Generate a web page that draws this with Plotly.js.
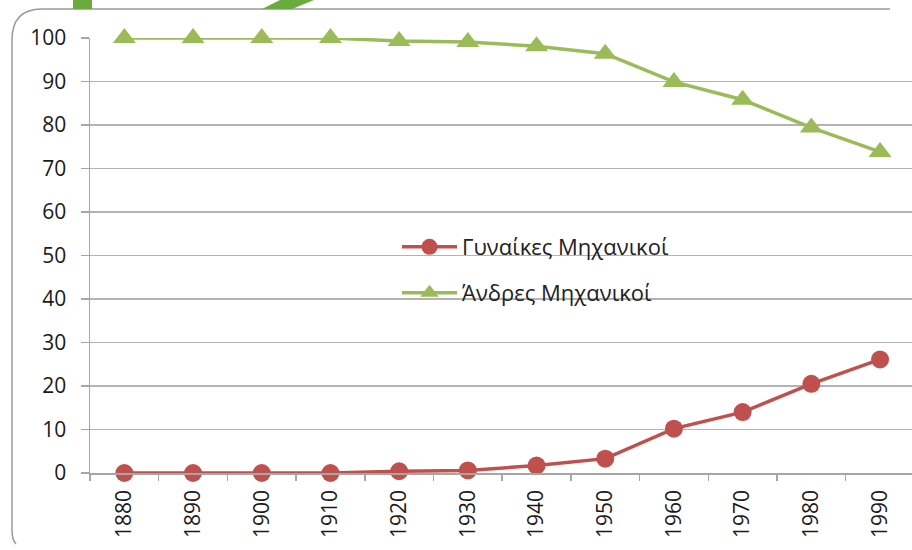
<!DOCTYPE html>
<html>
<head>
<meta charset="utf-8">
<script src="https://cdn.plot.ly/plotly-3.0.1.min.js"></script>
<style>html,body{margin:0;padding:0;background:#fff;}#chart{width:912px;height:550px;}</style>
</head>
<body>
<div id="chart"></div>
<script>
const years = ["1880","1890","1900","1910","1920","1930","1940","1950","1960","1970","1980","1990"];
const women = [0, 0, 0, 0, 0.4, 0.6, 1.7, 3.3, 10.2, 14.0, 20.5, 26.1];
const men = [100, 100, 100, 100, 99.3, 99.1, 98.1, 96.4, 89.9, 85.8, 79.4, 73.8];
const womenName = "Γυναίκες Μηχανικοί";
const menName = "Άνδρες Μηχανικοί";
const yTicks = [0,10,20,30,40,50,60,70,80,90,100];

const W = 912, H = 550;
const L = 90, T = 38, B = 77;
const plotW = W - L, plotH = H - T - B;
const px = x => (x - L) / plotW;
const py = y => (H - B - y) / plotH;

const FONT = "Open Sans, Liberation Sans, sans-serif";

const traces = [
  {
    x: years, y: women, name: womenName, type: "scatter", mode: "lines+markers",
    line: {color: "#c0504d", width: 3.5},
    marker: {symbol: "circle", size: 18, color: "#c0504d"},
    cliponaxis: false, legend: "legend"
  },
  {
    x: years, y: men, name: menName, type: "scatter", mode: "lines+markers",
    line: {color: "#9bbb59", width: 3.5},
    marker: {symbol: "triangle-up", size: 20, color: "#9bbb59"},
    cliponaxis: false, legend: "legend2"
  }
];

const frame = `M ${px(890)} ${py(9)} L ${px(42)} ${py(9)} Q ${px(12)} ${py(9)} ${px(12)} ${py(40)} L ${px(12)} ${py(530)} Q ${px(12)} ${py(540)} ${px(16)} ${py(544)}`;
const stripe = `M ${px(262)} ${py(9)} L ${px(292)} ${py(9)} L ${px(314)} ${py(0)} L ${px(280)} ${py(0)} Z`;

const legendFont = {family: FONT, size: 22, color: "#222"};

const layout = {
  width: W, height: H,
  margin: {l: L, r: 0, t: T, b: B, pad: 0},
  paper_bgcolor: "#ffffff", plot_bgcolor: "#ffffff",
  showlegend: true,
  font: {family: FONT, color: "#222", size: 18},
  xaxis: {
    type: "category", range: [-0.5, 11.465],
    showgrid: false, zeroline: false,
    showline: true, linecolor: "#a6a6a6", linewidth: 1.5,
    tickson: "boundaries", ticks: "outside", ticklen: 6, tickcolor: "#a6a6a6", tickwidth: 1.5,
    tickangle: -90, ticklabelstandoff: 7, tickfont: {family: FONT, size: 21, color: "#1a1a1a"}
  },
  yaxis: {
    range: [0, 100], tickvals: yTicks, ticktext: yTicks.map(String),
    showgrid: true, gridcolor: "#b3b3b3", gridwidth: 1.5,
    zeroline: false, showline: true, linecolor: "#a6a6a6", linewidth: 1.5,
    ticks: "outside", ticklen: 8, tickcolor: "#a6a6a6", tickwidth: 1.5,
    ticklabelstandoff: 10, tickfont: {family: FONT, size: 21, color: "#1a1a1a"}
  },
  legend: {
    x: px(397), y: py(247), xanchor: "left", yanchor: "middle", itemwidth: 55,
    bgcolor: "rgba(0,0,0,0)", font: legendFont
  },
  legend2: {
    x: px(397), y: py(293), xanchor: "left", yanchor: "middle", itemwidth: 55,
    bgcolor: "rgba(0,0,0,0)", font: legendFont
  },
  shapes: [
    {type: "path", xref: "paper", yref: "paper", path: frame, line: {color: "#9a9a9a", width: 1.5}, layer: "above"},
    {type: "rect", xref: "paper", yref: "paper", x0: px(73), x1: px(92), y0: py(9), y1: py(0), fillcolor: "#6aaa3f", line: {width: 0}},
    {type: "path", xref: "paper", yref: "paper", path: stripe, fillcolor: "#6aaa3f", line: {width: 0}}
  ]
};

Plotly.newPlot("chart", traces, layout, {displayModeBar: false, staticPlot: true});
</script>
</body>
</html>
